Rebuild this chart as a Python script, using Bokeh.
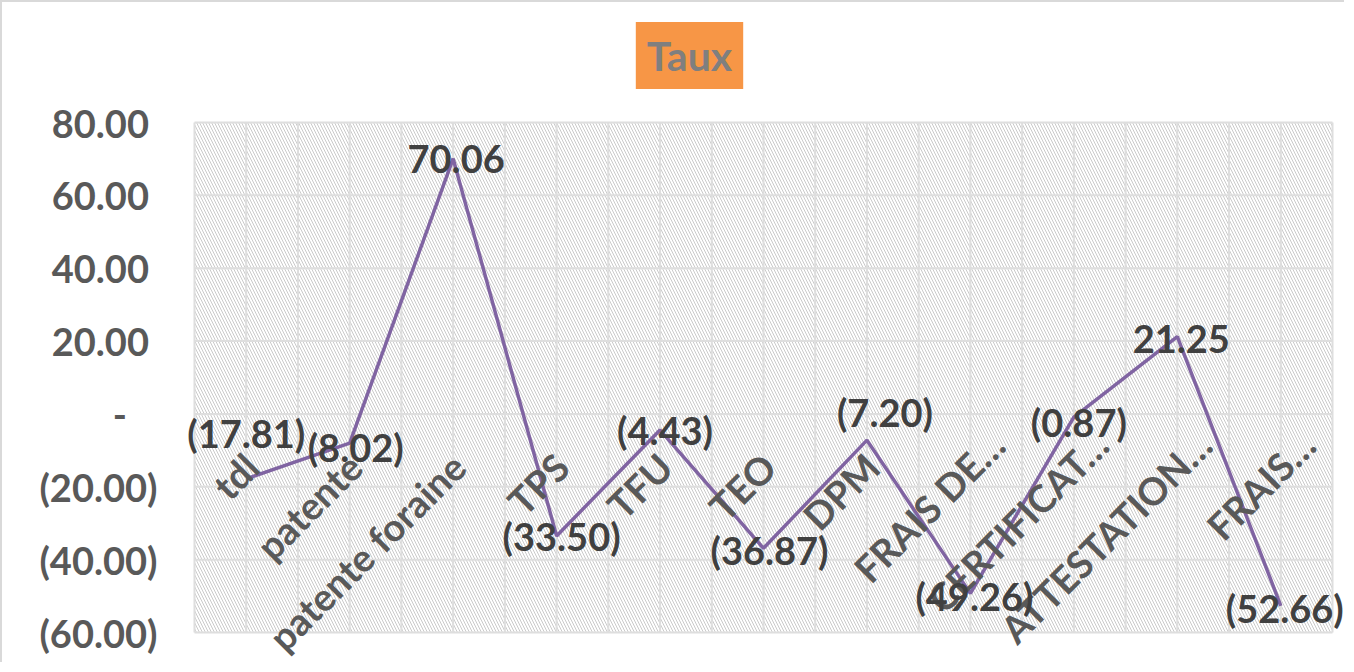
import math
from bokeh.plotting import figure
from bokeh.models import (BoxAnnotation, Label, LabelSet, ColumnDataSource, Range1d)
from bokeh.core.properties import value
from bokeh.embed import file_html
from bokeh.resources import INLINE

# ---- data -------------------------------------------------------------
categories = ["tdl", "patente", "patente foraine", "TPS", "TFU", "TEO", "DPM",
              "FRAIS DE…", "CERTIFICAT…", "ATTESTATION…", "FRAIS…"]
taux = [-17.81, -8.02, 70.06, -33.50, -4.43, -36.87, -7.20, -49.26, -0.87, 21.25, -52.66]
y_ticks = [-60, -40, -20, 0, 20, 40, 60, 80]
y_tick_labels = ["(60.00)", "(40.00)", "(20.00)", "-", "20.00", "40.00", "60.00", "80.00"]

# manual nudges of the data labels (screen px, +y = up), as in the reference
label_dx = [0, 6, 3, 5, 5, 6, 18, 4, 5, 4, 4]
label_dy = [46, -4, 0, 0, 0, -2, 28, -3, -5, -2, -2]


def fmt(v):
    return f"({abs(v):.2f})" if v < 0 else f"{v:.2f}"


n = len(categories)
xs = list(range(n))
point_labels = [fmt(v) for v in taux]

FONT = "Lato"
W, H = 1344, 662
# plot-area (hatched) box inside the canvas, in px
PA_L, PA_R, PA_T, PA_B = 192, 1330, 120, 630
x_lo, x_hi = -0.5, n - 0.5
y_lo, y_hi = y_ticks[0], y_ticks[-1]
ppx = (PA_R - PA_L) / (x_hi - x_lo)
ppy = (PA_B - PA_T) / (y_hi - y_lo)
x_range = Range1d(x_lo - PA_L / ppx, x_hi + (W - PA_R) / ppx)
y_range = Range1d(y_lo - (H - PA_B) / ppy, y_hi + PA_T / ppy)

p = figure(width=W, height=H, output_backend="svg", toolbar_location=None,
           title=None, x_range=x_range, y_range=y_range,
           min_border_left=0, min_border_right=0,
           min_border_top=0, min_border_bottom=0)
p.styles = {"border-left": "2px solid #d9d9d9", "border-top": "2px solid #d9d9d9"}
p.outline_line_color = None
p.background_fill_color = "white"
p.border_fill_color = "white"
p.xgrid.visible = False
p.ygrid.visible = False
p.xaxis.visible = False
p.yaxis.visible = False

# hatched plot area
p.add_layout(BoxAnnotation(left=x_lo, right=x_hi, bottom=y_lo, top=y_hi,
                           fill_color=None, line_color=None,
                           hatch_pattern="\\", hatch_color="#cacaca",
                           hatch_scale=6, hatch_weight=1.0, level="image"))

# grid lines (half-category vertical lines, tick horizontal lines)
half = [x_lo + 0.5 * i for i in range(2 * n + 1)]
p.segment(x0=half, x1=half, y0=[y_lo] * len(half), y1=[y_hi] * len(half),
          line_color="#dedede", line_width=2)
p.segment(x0=[x_lo] * len(y_ticks), x1=[x_hi] * len(y_ticks), y0=y_ticks, y1=y_ticks,
          line_color="#dedede", line_width=2)

# y tick labels (accounting style: numbers aligned, "-" for zero)
pad_labels = []
for t, lab in zip(y_ticks, y_tick_labels):
    if t > 0:
        lab = lab + "\u2008"
    elif t == 0:
        lab = lab + "\u2007\u2008"
    pad_labels.append(lab)
tick_src = ColumnDataSource(dict(x=[x_lo] * len(y_ticks), y=y_ticks, lab=pad_labels))
p.add_layout(LabelSet(x="x", y="y", text="lab", source=tick_src,
                      x_offset=-37, text_align="right", text_baseline="middle",
                      text_font=value(FONT), text_font_style="bold",
                      text_font_size="38px", text_color="#595959"))

# line
ell = 22  # shift of truncated labels so the word (not the ellipsis) ends at the tick
cat_dx = [5 + (ell if c.endswith("…") else 0) for c in categories]
cat_dy = [-46 + (ell if c.endswith("…") else 0) for c in categories]
src = ColumnDataSource(dict(x=xs, y=taux, lab=point_labels,
                            dx=label_dx, dy=label_dy,
                            cat=categories, zero=[0] * n, cdx=cat_dx, cdy=cat_dy))
p.line("x", "y", source=src, line_color="#8064A2", line_width=3.5)

# category labels (rotated, next to the zero axis)
p.add_layout(LabelSet(x="x", y="zero", text="cat", source=src,
                      angle=math.pi / 4, text_align="right", text_baseline="middle",
                      x_offset="cdx", y_offset="cdy",
                      text_font=value(FONT), text_font_style="bold",
                      text_font_size="38px", text_color="#595959"))

# data labels
p.add_layout(LabelSet(x="x", y="y", text="lab", source=src,
                      x_offset="dx", y_offset="dy",
                      text_align="center", text_baseline="middle",
                      text_font=value(FONT), text_font_style="bold",
                      text_font_size="38px", text_color="#404040"))

# chart title in an orange box
p.add_layout(Label(x=687, y=609, x_units="screen", y_units="screen", text="Taux",
                   text_align="center", text_baseline="middle",
                   text_font=FONT, text_font_style="bold",
                   text_font_size="41px", text_color="#7f7f7f",
                   background_fill_color="#F79646", padding=(11, 9)))

open("out.html", "w").write(file_html(p, INLINE))
